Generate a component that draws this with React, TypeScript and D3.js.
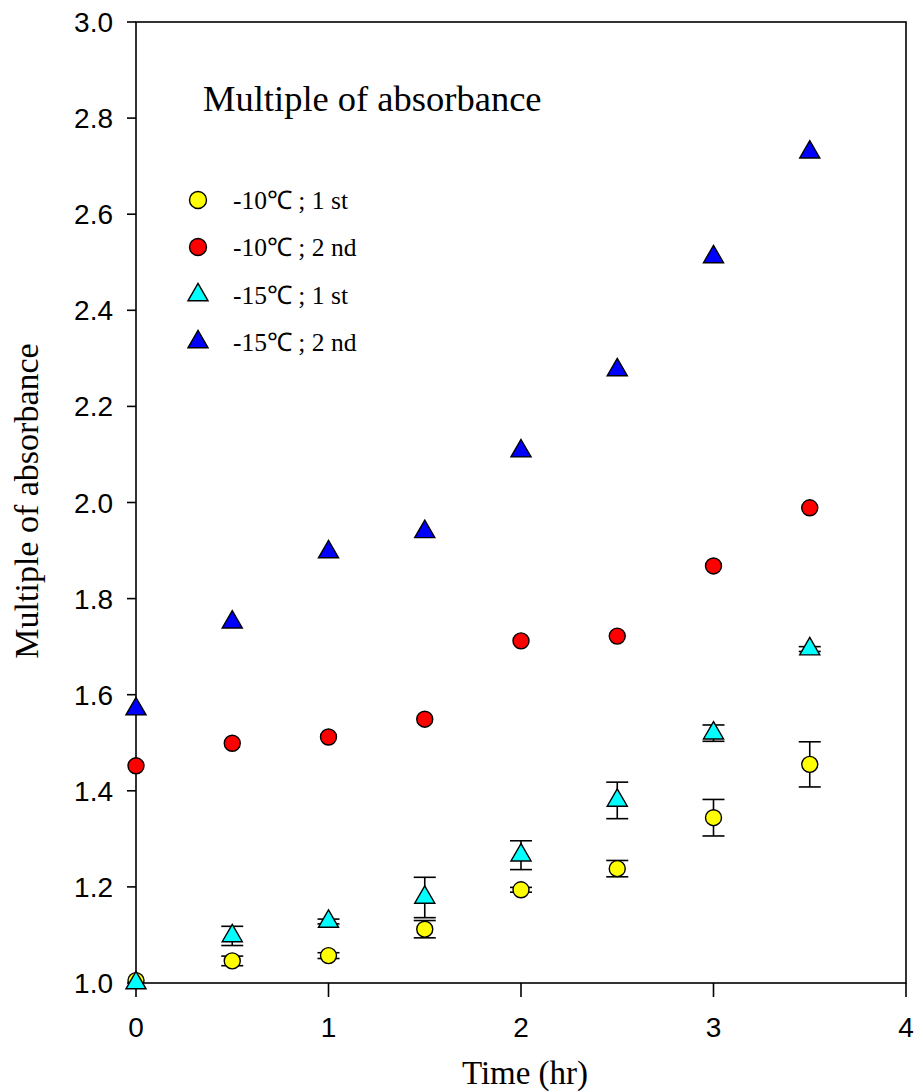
import React from "react";
import * as d3 from "d3";

const times = [0, 0.5, 1, 1.5, 2, 2.5, 3, 3.5];
const yellowVals = [1.005, 1.046, 1.057, 1.112, 1.194, 1.238, 1.344, 1.455];
const yellowErr = [0, 0.01, 0.006, 0.018, 0.005, 0.017, 0.038, 0.047];
const redVals = [1.452, 1.499, 1.512, 1.549, 1.712, 1.722, 1.868, 1.989];
const cyanVals = [1.0, 1.098, 1.128, 1.178, 1.266, 1.38, 1.52, 1.695];
const cyanErr = [0, 0.02, 0.005, 0.042, 0.03, 0.038, 0.017, 0.005];
const blueVals = [1.57, 1.751, 1.897, 1.939, 2.107, 2.276, 2.511, 2.729];
const xTicks = [0, 1, 2, 3, 4];
const yTicks = [1.0, 1.2, 1.4, 1.6, 1.8, 2.0, 2.2, 2.4, 2.6, 2.8, 3.0];
const legendLabels = ["-10℃ ; 1 st", "-10℃ ; 2 nd", "-15℃ ; 1 st", "-15℃ ; 2 nd"];

const W = 915, H = 1092;
const L = 136, R = 906, T = 22, B = 983;
const SANS = "Liberation Sans, Arial, sans-serif";
const SERIF = "Liberation Serif, Times New Roman, serif";

export default function App() {
  const x = d3.scaleLinear().domain([0, 4]).range([L, R]);
  const y = d3.scaleLinear().domain([1, 3]).range([B, T]);
  const tri = d3.symbol().type(d3.symbolTriangle).size(175)() as string;
  const capW = 11;

  const errBars = (vals: number[], errs: number[], key: string) =>
    vals.map((v, i) =>
      errs[i] > 0 ? (
        <g key={key + i} stroke="#000" strokeWidth={1.6}>
          <line x1={x(times[i])} x2={x(times[i])} y1={y(v + errs[i])} y2={y(v - errs[i])} />
          <line x1={x(times[i]) - capW} x2={x(times[i]) + capW} y1={y(v + errs[i])} y2={y(v + errs[i])} />
          <line x1={x(times[i]) - capW} x2={x(times[i]) + capW} y1={y(v - errs[i])} y2={y(v - errs[i])} />
        </g>
      ) : null
    );

  const circles = (vals: number[], fill: string, key: string) =>
    vals.map((v, i) => (
      <circle key={key + i} cx={x(times[i])} cy={y(v)} r={8} fill={fill} stroke="#000" strokeWidth={1.4} />
    ));
  const tris = (vals: number[], fill: string, key: string) =>
    vals.map((v, i) => (
      <path key={key + i} d={tri} transform={`translate(${x(times[i])},${y(v)})`} fill={fill} stroke="#000" strokeWidth={1.4} />
    ));

  const legendColors = ["#ffff00", "#ff0000", "#00ffff", "#0000ff"];
  const legendY = [200, 247, 295, 342];

  return (
    <svg width={W} height={H} style={{ position: "absolute", left: 0, top: 0, background: "#fff" }}>
      <rect x={0} y={0} width={W} height={H} fill="#fff" />
      <rect x={L} y={T} width={R - L} height={B - T} fill="none" stroke="#000" strokeWidth={1.6} />
      {yTicks.map((t) => (
        <g key={"yt" + t}>
          <line x1={L - 9} x2={L} y1={y(t)} y2={y(t)} stroke="#000" strokeWidth={1.6} />
          <text x={113} y={y(t)} dy="0.36em" textAnchor="end" fontFamily={SANS} fontSize={28}>
            {t.toFixed(1)}
          </text>
        </g>
      ))}
      {xTicks.map((t) => (
        <g key={"xt" + t}>
          <line x1={x(t)} x2={x(t)} y1={B} y2={B + 14} stroke="#000" strokeWidth={1.6} />
          <text x={x(t)} y={1037} textAnchor="middle" fontFamily={SANS} fontSize={28}>
            {t}
          </text>
        </g>
      ))}
      <text x={525} y={1084} textAnchor="middle" fontFamily={SERIF} fontSize={33}>
        Time (hr)
      </text>
      <text transform="translate(38,501) rotate(-90)" textAnchor="middle" fontFamily={SERIF} fontSize={34}>
        Multiple of absorbance
      </text>
      <text x={203} y={111} fontFamily={SERIF} fontSize={36.5}>
        Multiple of absorbance
      </text>
      {legendLabels.map((lab, i) => (
        <g key={"lg" + i}>
          {i < 2 ? (
            <circle cx={198} cy={legendY[i]} r={8.5} fill={legendColors[i]} stroke="#000" strokeWidth={1.4} />
          ) : (
            <path d={tri} transform={`translate(198,${legendY[i]})`} fill={legendColors[i]} stroke="#000" strokeWidth={1.4} />
          )}
          <text x={233} y={legendY[i]} dy="0.35em" fontFamily={SERIF} fontSize={25.5}>
            {lab}
          </text>
        </g>
      ))}
      {errBars(yellowVals, yellowErr, "ye")}
      {errBars(cyanVals, cyanErr, "ce")}
      {circles(yellowVals, "#ffff00", "y")}
      {circles(redVals, "#ff0000", "r")}
      {tris(cyanVals, "#00ffff", "c")}
      {tris(blueVals, "#0000ff", "b")}
    </svg>
  );
}
